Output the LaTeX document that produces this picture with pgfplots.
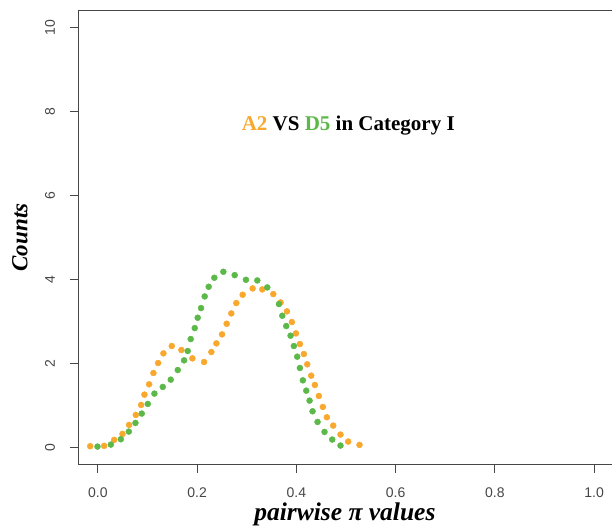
\documentclass[border=0pt]{standalone}
\usepackage{fontspec}
\setmainfont{Liberation Serif}
\setsansfont{Liberation Sans}
\usepackage{pgfplots}
\pgfplotsset{compat=1.18}
\definecolor{aorange}{RGB}{248,168,44}
\definecolor{dgreen}{RGB}{92,184,72}
\definecolor{axgray}{RGB}{70,70,70}
\pgfplotstableread{
x y
-0.0154 0.024
0.0127 0.032
0.0329 0.175
0.0496 0.317
0.0630 0.532
0.0765 0.770
0.0872 1.008
0.0939 1.254
0.1033 1.500
0.1120 1.770
0.1214 2.008
0.1321 2.238
0.1489 2.413
0.1683 2.317
0.1905 2.119
0.2140 2.032
0.2287 2.270
0.2388 2.476
0.2502 2.690
0.2596 2.944
0.2689 3.190
0.2790 3.437
0.2918 3.635
0.3119 3.786
0.3313 3.762
0.3535 3.651
0.3682 3.452
0.3810 3.238
0.3910 2.984
0.3991 2.714
0.4071 2.460
0.4151 2.222
0.4219 1.976
0.4299 1.706
0.4373 1.484
0.4453 1.222
0.4534 0.960
0.4614 0.714
0.4742 0.516
0.4889 0.302
0.5044 0.135
0.5272 0.056
}\orangedata
\pgfplotstableread{
x y
-0.0007 0.016
0.0262 0.063
0.0463 0.190
0.0624 0.373
0.0758 0.579
0.0885 0.802
0.1006 1.032
0.1140 1.278
0.1308 1.437
0.1469 1.611
0.1610 1.841
0.1737 2.071
0.1811 2.294
0.1871 2.579
0.1952 2.841
0.2012 3.087
0.2079 3.317
0.2153 3.595
0.2233 3.825
0.2347 4.040
0.2529 4.183
0.2757 4.103
0.2984 3.992
0.3213 3.976
0.3414 3.810
0.3649 3.413
0.3716 3.135
0.3796 2.889
0.3883 2.659
0.3950 2.413
0.4017 2.159
0.4071 1.889
0.4131 1.595
0.4199 1.349
0.4266 1.111
0.4326 0.857
0.4427 0.603
0.4567 0.365
0.4722 0.183
0.4889 0.040
}\greendata
\begin{document}
\begin{tikzpicture}[x=1pt,y=1pt]
\useasboundingbox (0,0) rectangle (612,528);
\begin{axis}[
  at={(78pt,64pt)}, anchor=south west,
  scale only axis, width=536pt, height=453pt,
  xmin=-0.04, xmax=1.04, ymin=-0.4, ymax=10.4,
  axis line style={axgray, line width=1pt},
  tick style={axgray, line width=1pt},
  tick align=outside, major tick length=8.5pt,
  xtick pos=bottom, ytick pos=left,
  xtick={0,0.2,0.4,0.6,0.8,1.0},
  ytick={0,2,4,6,8,10},
  /pgf/number format/assume math mode=true,
  ticklabel style={font=\sffamily\fontsize{14}{14}\selectfont, text=axgray},
  xticklabel style={/pgf/number format/.cd, fixed, fixed zerofill, precision=1, /tikz/.cd, yshift=-12pt},
  yticklabel style={rotate=90, anchor=south, yshift=11pt},
  xlabel={\bfseries\itshape pairwise π values},
  xlabel style={at={(axis description cs:0.498,-0.1258)}, anchor=base, font=\fontsize{25.5}{25.5}\selectfont},
  ylabel={\bfseries\itshape Counts},
  ylabel style={at={(axis description cs:-0.1082,0.5)}, anchor=center, rotate=0, font=\fontsize{23}{23}\selectfont},
]
\addplot[only marks, mark=*, mark size=3pt, color=aorange, mark options={draw=none, fill=aorange}] table {\orangedata};
\addplot[only marks, mark=*, mark size=3pt, color=dgreen, mark options={draw=none, fill=dgreen}] table {\greendata};
\node[anchor=base] at (axis cs:0.5045,7.56) {\bfseries\fontsize{21}{21}\selectfont \textcolor{aorange}{A2} VS \textcolor{dgreen}{D5} in Category I};
\end{axis}
\end{tikzpicture}
\end{document}
